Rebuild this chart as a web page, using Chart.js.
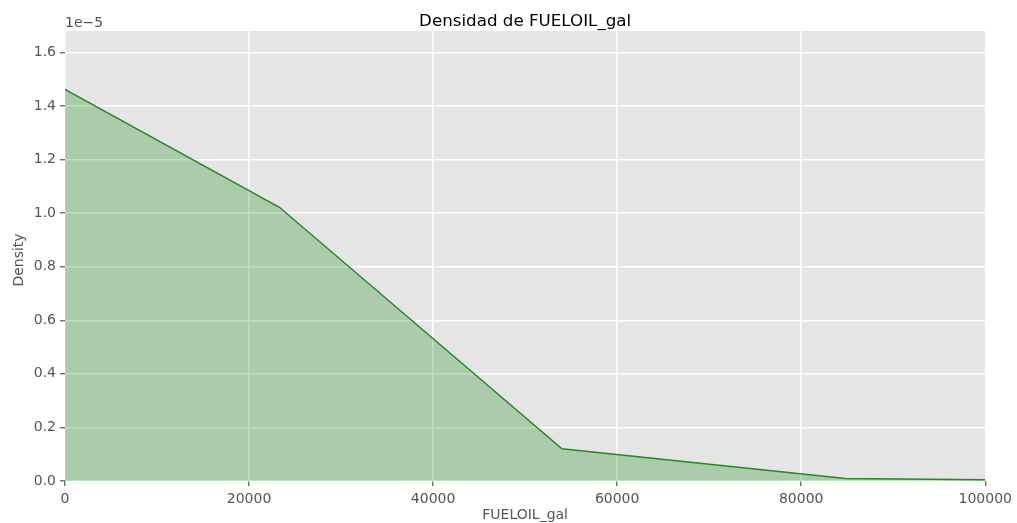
<!DOCTYPE html>
<html>
<head>
<meta charset="utf-8">
<script src="https://cdn.jsdelivr.net/npm/chart.js@4.4.1/dist/chart.umd.min.js"></script>
<style>
  html, body { margin: 0; padding: 0; background: #fff; }
  #wrap { width: 1017px; height: 523px; }
</style>
</head>
<body>
<div id="wrap"><canvas id="kde"></canvas></div>
<script>
// KDE curve
const fuelX = [0, 23300, 54000, 84800, 100000];
const density = [1.462e-5, 1.022e-5, 0.12e-5, 0.009e-5, 0.005e-5];
const xTicks = [0, 20000, 40000, 60000, 80000, 100000];
const yTicks = [0, 0.2e-5, 0.4e-5, 0.6e-5, 0.8e-5, 1.0e-5, 1.2e-5, 1.4e-5, 1.6e-5];

const tickGray = '#555555';
const font = { family: 'DejaVu Sans', size: 14 };

// grey panel, title, axis labels and offset text
const panel = {
    id: 'panel',
    beforeDraw(chart) {
        const { ctx, chartArea: a } = chart;
        ctx.save();
        ctx.fillStyle = '#E5E5E5';
        ctx.fillRect(a.left, a.top, a.right - a.left, a.bottom - a.top);
        ctx.restore();
    },
    afterDraw(chart) {
        const { ctx, chartArea: a } = chart;
        const midX = (a.left + a.right) / 2;
        ctx.save();
        ctx.font = '16.7px "DejaVu Sans"';
        ctx.fillStyle = '#000';
        ctx.textAlign = 'center';
        ctx.textBaseline = 'alphabetic';
        ctx.fillText('Densidad de FUELOIL_gal', midX, 26);

        ctx.font = '14px "DejaVu Sans"';
        ctx.fillStyle = tickGray;
        ctx.textAlign = 'left';
        ctx.fillText('1e\u22125', a.left, 27);

        ctx.textAlign = 'center';
        ctx.fillText('FUELOIL_gal', midX, 519);

        ctx.translate(23, (a.top + a.bottom) / 2 + 4);
        ctx.rotate(-Math.PI / 2);
        ctx.fillText('Density', 0, 0);
        ctx.restore();
    }
};

new Chart(document.getElementById('kde').getContext('2d'), {
    type: 'line',
    data: {
        datasets: [{
            label: 'FUELOIL_gal',
            data: fuelX.map((x, i) => ({ x: x, y: density[i] })),
            borderColor: 'rgb(34, 139, 34)',
            borderWidth: 1.5,
            backgroundColor: 'rgba(0, 128, 0, 0.25)',
            fill: 'origin',
            pointRadius: 0,
            tension: 0
        }]
    },
    options: {
        responsive: true,
        maintainAspectRatio: false,
        animation: false,
        layout: { padding: { top: 31, right: 30, left: 0, bottom: 0 } },
        plugins: {
            legend: { display: false },
            tooltip: { enabled: false }
        },
        scales: {
            x: {
                type: 'linear',
                min: 0,
                max: 100000,
                afterBuildTicks(scale) { scale.ticks = xTicks.map(v => ({ value: v })); },
                afterFit(scale) { scale.height = 42; },
                border: { display: false },
                grid: { color: '#FFFFFF', lineWidth: 1.5, tickColor: tickGray, tickLength: 5, tickWidth: 1.2 },
                ticks: { color: tickGray, font: font, padding: 5, maxRotation: 0, callback: v => String(v) }
            },
            y: {
                min: 0,
                max: 1.68e-5,
                afterBuildTicks(scale) { scale.ticks = yTicks.map(v => ({ value: v })); },
                afterFit(scale) { scale.width = 65; },
                border: { display: false },
                grid: { color: '#FFFFFF', lineWidth: 1.5, tickColor: tickGray, tickLength: 5, tickWidth: 1.2 },
                ticks: { color: tickGray, font: font, padding: 4, callback: v => (v / 1e-5).toFixed(1) }
            }
        }
    },
    plugins: [panel]
});
</script>
</body>
</html>
